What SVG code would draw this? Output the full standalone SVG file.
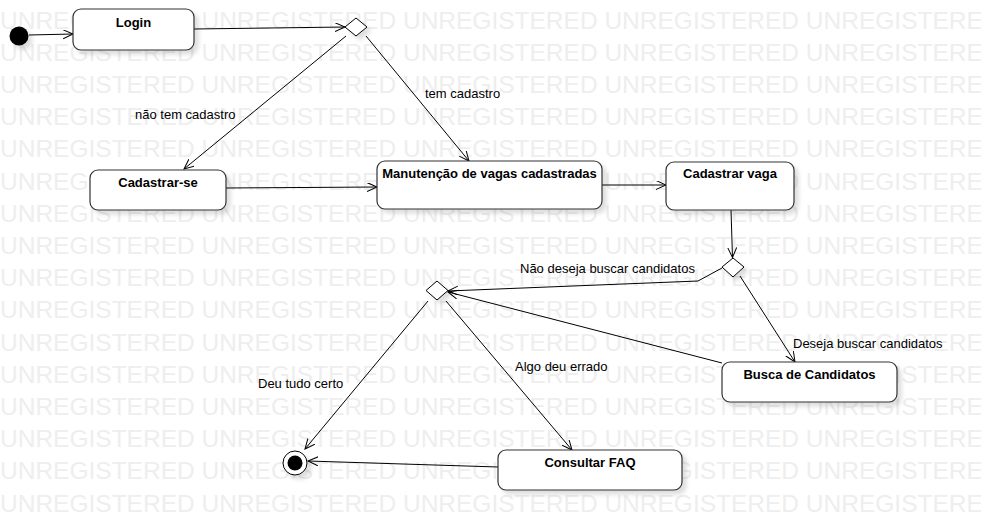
<svg xmlns="http://www.w3.org/2000/svg" width="981" height="530" viewBox="0 0 981 530">
<defs>
<style>
.wm{font-family:"Liberation Sans",Arial,sans-serif;font-size:24.5px;fill:#eeeeee}
.node rect{fill:#fff;stroke:#333;stroke-width:1.2}
.nt{font-family:"Liberation Sans",Arial,sans-serif;font-size:13px;font-weight:bold;fill:#000;text-anchor:middle}
.lbl{font-family:"Liberation Sans",Arial,sans-serif;font-size:13px;fill:#000}
.dia{fill:#fff;stroke:#000;stroke-width:1}
.edge{fill:none;stroke:#000;stroke-width:1;marker-end:url(#arr)}
.sh{filter:url(#shadow)}
</style>
<filter id="shadow" x="-20%" y="-20%" width="150%" height="160%">
<feDropShadow dx="4" dy="4" stdDeviation="2" flood-color="#000" flood-opacity="0.13"/>
</filter>
<marker id="arr" markerWidth="12" markerHeight="10" refX="10" refY="4.5" orient="auto" markerUnits="userSpaceOnUse">
<path d="M0,0 L10,4.5 L0,9" fill="none" stroke="#000" stroke-width="1"/>
</marker>
</defs>
<rect width="981" height="530" fill="#fff"/>
<g id="watermark">
<text class="wm" x="0" y="28.5">UNREGISTERED UNREGISTERED UNREGISTERED UNREGISTERED UNREGISTERED</text>
<text class="wm" x="0" y="60.7">UNREGISTERED UNREGISTERED UNREGISTERED UNREGISTERED UNREGISTERED</text>
<text class="wm" x="0" y="92.9">UNREGISTERED UNREGISTERED UNREGISTERED UNREGISTERED UNREGISTERED</text>
<text class="wm" x="0" y="125.1">UNREGISTERED UNREGISTERED UNREGISTERED UNREGISTERED UNREGISTERED</text>
<text class="wm" x="0" y="157.3">UNREGISTERED UNREGISTERED UNREGISTERED UNREGISTERED UNREGISTERED</text>
<text class="wm" x="0" y="189.5">UNREGISTERED UNREGISTERED UNREGISTERED UNREGISTERED UNREGISTERED</text>
<text class="wm" x="0" y="221.7">UNREGISTERED UNREGISTERED UNREGISTERED UNREGISTERED UNREGISTERED</text>
<text class="wm" x="0" y="253.9">UNREGISTERED UNREGISTERED UNREGISTERED UNREGISTERED UNREGISTERED</text>
<text class="wm" x="0" y="286.1">UNREGISTERED UNREGISTERED UNREGISTERED UNREGISTERED UNREGISTERED</text>
<text class="wm" x="0" y="318.3">UNREGISTERED UNREGISTERED UNREGISTERED UNREGISTERED UNREGISTERED</text>
<text class="wm" x="0" y="350.5">UNREGISTERED UNREGISTERED UNREGISTERED UNREGISTERED UNREGISTERED</text>
<text class="wm" x="0" y="382.7">UNREGISTERED UNREGISTERED UNREGISTERED UNREGISTERED UNREGISTERED</text>
<text class="wm" x="0" y="414.9">UNREGISTERED UNREGISTERED UNREGISTERED UNREGISTERED UNREGISTERED</text>
<text class="wm" x="0" y="447.1">UNREGISTERED UNREGISTERED UNREGISTERED UNREGISTERED UNREGISTERED</text>
<text class="wm" x="0" y="479.3">UNREGISTERED UNREGISTERED UNREGISTERED UNREGISTERED UNREGISTERED</text>
<text class="wm" x="0" y="511.5">UNREGISTERED UNREGISTERED UNREGISTERED UNREGISTERED UNREGISTERED</text>
</g>
<g id="connectors">
<line class="edge" x1="29" y1="35" x2="73" y2="34"/>
<line class="edge" x1="194" y1="29" x2="345" y2="27"/>
<line class="edge" x1="346" y1="36" x2="184" y2="169"/>
<line class="edge" x1="366" y1="36" x2="469" y2="161"/>
<line class="edge" x1="226" y1="188" x2="377" y2="187"/>
<line class="edge" x1="602" y1="185" x2="666" y2="185"/>
<line class="edge" x1="731" y1="210" x2="732.5" y2="257.5"/>
<line class="edge" x1="740" y1="276" x2="795" y2="362"/>
<polyline class="edge" points="722,268 698,281 448,291"/>
<line class="edge" x1="722" y1="363" x2="448" y2="292"/>
<line class="edge" x1="428" y1="301" x2="305" y2="449"/>
<line class="edge" x1="446" y1="301" x2="572" y2="450"/>
<line class="edge" x1="498" y1="467" x2="308" y2="461"/>
<text class="lbl" x="135" y="119">não tem cadastro</text>
<text class="lbl" x="425" y="98">tem cadastro</text>
<text class="lbl" x="793" y="348">Deseja buscar candidatos</text>
<text class="lbl" x="520" y="273">Não deseja buscar candidatos</text>
<text class="lbl" x="258" y="388">Deu tudo certo</text>
<text class="lbl" x="515" y="371">Algo deu errado</text>
</g>
<g id="initial" class="sh"><circle cx="19" cy="36" r="9.5" fill="#000"/></g>
<g id="login" class="node"><rect class="sh" x="73" y="9" width="121" height="41" rx="8"/><text class="nt" x="133.5" y="27">Login</text></g>
<g id="decision1" class="sh"><polygon class="dia" points="345,27 356,18 367,27 356,36"/></g>
<g id="cadastrar-se" class="node"><rect class="sh" x="90" y="170" width="136" height="40" rx="8"/><text class="nt" x="158" y="187">Cadastrar-se</text></g>
<g id="manutencao" class="node"><rect class="sh" x="377" y="161" width="225" height="48" rx="8"/><text class="nt" x="489.5" y="178">Manutenção de vagas cadastradas</text></g>
<g id="cadastrar-vaga" class="node"><rect class="sh" x="666" y="162" width="128" height="48" rx="8"/><text class="nt" x="730" y="178">Cadastrar vaga</text></g>
<g id="decision2" class="sh"><polygon class="dia" points="722,267 733,258 744,267 733,277"/></g>
<g id="busca" class="node"><rect class="sh" x="722" y="362" width="175" height="40" rx="8"/><text class="nt" x="809.5" y="378.5">Busca de Candidatos</text></g>
<g id="decision3" class="sh"><polygon class="dia" points="426,290.5 437,281 448,290.5 437,300"/></g>
<g id="faq" class="node"><rect class="sh" x="498" y="450" width="184" height="40" rx="8"/><text class="nt" x="590" y="467">Consultar FAQ</text></g>
<g id="final" class="sh"><circle cx="295" cy="463" r="12" fill="#fff" stroke="#000" stroke-width="1"/><circle cx="295" cy="463" r="7.5" fill="#000"/></g>
</svg>
